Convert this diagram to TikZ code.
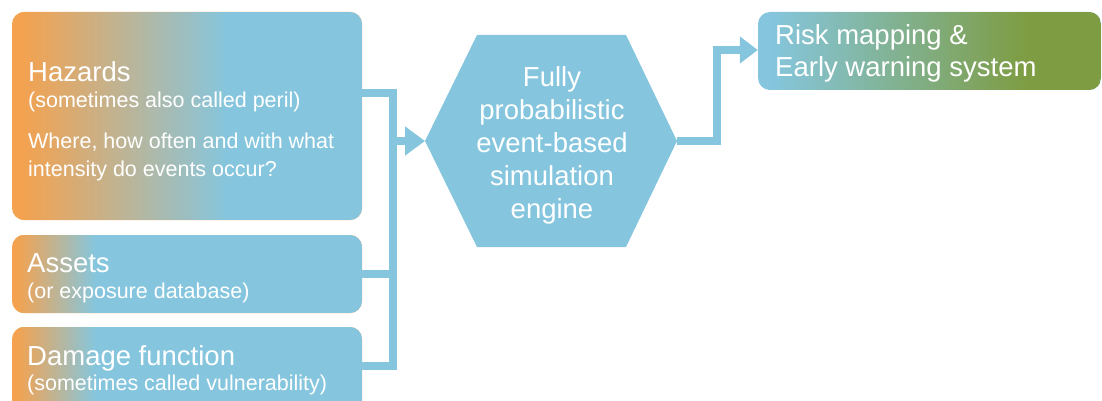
\documentclass[tikz,border=0pt]{standalone}
\usepackage{fontspec}
\setmainfont{Liberation Sans}
\usetikzlibrary{arrows.meta}
\definecolor{cblue}{HTML}{85C6DE}
\definecolor{corange}{HTML}{F4A24F}
\definecolor{cgreen}{HTML}{7E9C42}
\tikzset{
  box/.style={rectangle, rounded corners=12pt, draw=none, inner sep=0pt},
  grad/.style n args={4}{fill=#1, path picture={
      \foreach \i in {0,...,59}{
        \pgfmathsetmacro\p{100*\i/59}
        \fill[sharp corners, #2!\p!#1]
          ([xshift={#3+\i*(#4-#3)/60}]path picture bounding box.south west) rectangle
          ([xshift={#3+(\i+1)*(#4-#3)/60+0.6pt}]path picture bounding box.north west);
      }
      \fill[sharp corners, #2] ([xshift=#4]path picture bounding box.south west) rectangle
        (path picture bounding box.north east);}},
  title/.style={anchor=base west, inner sep=0pt, text=white, font=\fontsize{27.5}{33}\selectfont},
  sub/.style={anchor=base west, inner sep=0pt, text=white, font=\fontsize{21.5}{28}\selectfont},
  conn/.style={draw=cblue, line width=7.5pt, line cap=butt, line join=miter},
}
\begin{document}
\begin{tikzpicture}[x=1pt,y=-1pt]
\clip (0,0) rectangle (1102,401);
% boxes
\node[box, grad={corange}{cblue}{8pt}{218pt}, minimum width=350pt, minimum height=208pt] (haz) at (187,116) {};
\node[box, grad={corange}{cblue}{4pt}{85pt}, minimum width=350pt, minimum height=78pt] (ass) at (187,274) {};
\node[box, grad={corange}{cblue}{4pt}{85pt}, minimum width=350pt, minimum height=90pt] (dam) at (187,372) {};
\node[box, grad={cblue}{cgreen}{10pt}{272pt}, minimum width=343pt, minimum height=78pt] (risk) at (929.5,51) {};
% hexagon
\coordinate (hexL) at (425,141);
\coordinate (hexR) at (677,141);
\fill[cblue] (hexL) -- (477,35) -- (626,35) -- (hexR) -- (626,247) -- (477,247) -- cycle;
\node[inner sep=0pt, text=white, align=center, font=\fontsize{27.5}{33}\selectfont] (eng) at (552,145)
  {Fully\\probabilistic\\event-based\\simulation\\engine};
% texts
\node[title] (hazT) at (28,82) {Hazards};
\node[sub] (hazS) at (28,107) {(sometimes also called peril)};
\node[sub] (hazQ1) at (28,148) {Where, how often and with what};
\node[sub] (hazQ2) at (28,176) {intensity do events occur?};
\node[title] (assT) at (27,272) {Assets};
\node[sub] (assS) at (27,298) {(or exposure database)};
\node[title] (damT) at (27,365) {Damage function};
\node[sub] (damS) at (27,390) {(sometimes called vulnerability)};
\node[title] (riskT1) at (775,45) {Risk mapping \&};
\node[title] (riskT2) at (775,77) {Early warning system};
% connectors
\coordinate (busT) at (393,93);
\coordinate (busB) at (393,366);
\coordinate (busM) at (393,141);
\coordinate (outC) at (717,141);
\draw[conn] (haz.east |- busT) -- (busT) -- (busB) -- (dam.east |- busB);
\draw[conn] (ass.east) -- (ass.east -| busT);
\draw[conn, -{Triangle[length=20pt,width=28pt]}] (busM) -- (hexL);
\draw[conn, -{Triangle[length=18pt,width=26pt]}] (hexR) -- (outC) |- (risk.west |- 0,50);
\end{tikzpicture}
\end{document}
